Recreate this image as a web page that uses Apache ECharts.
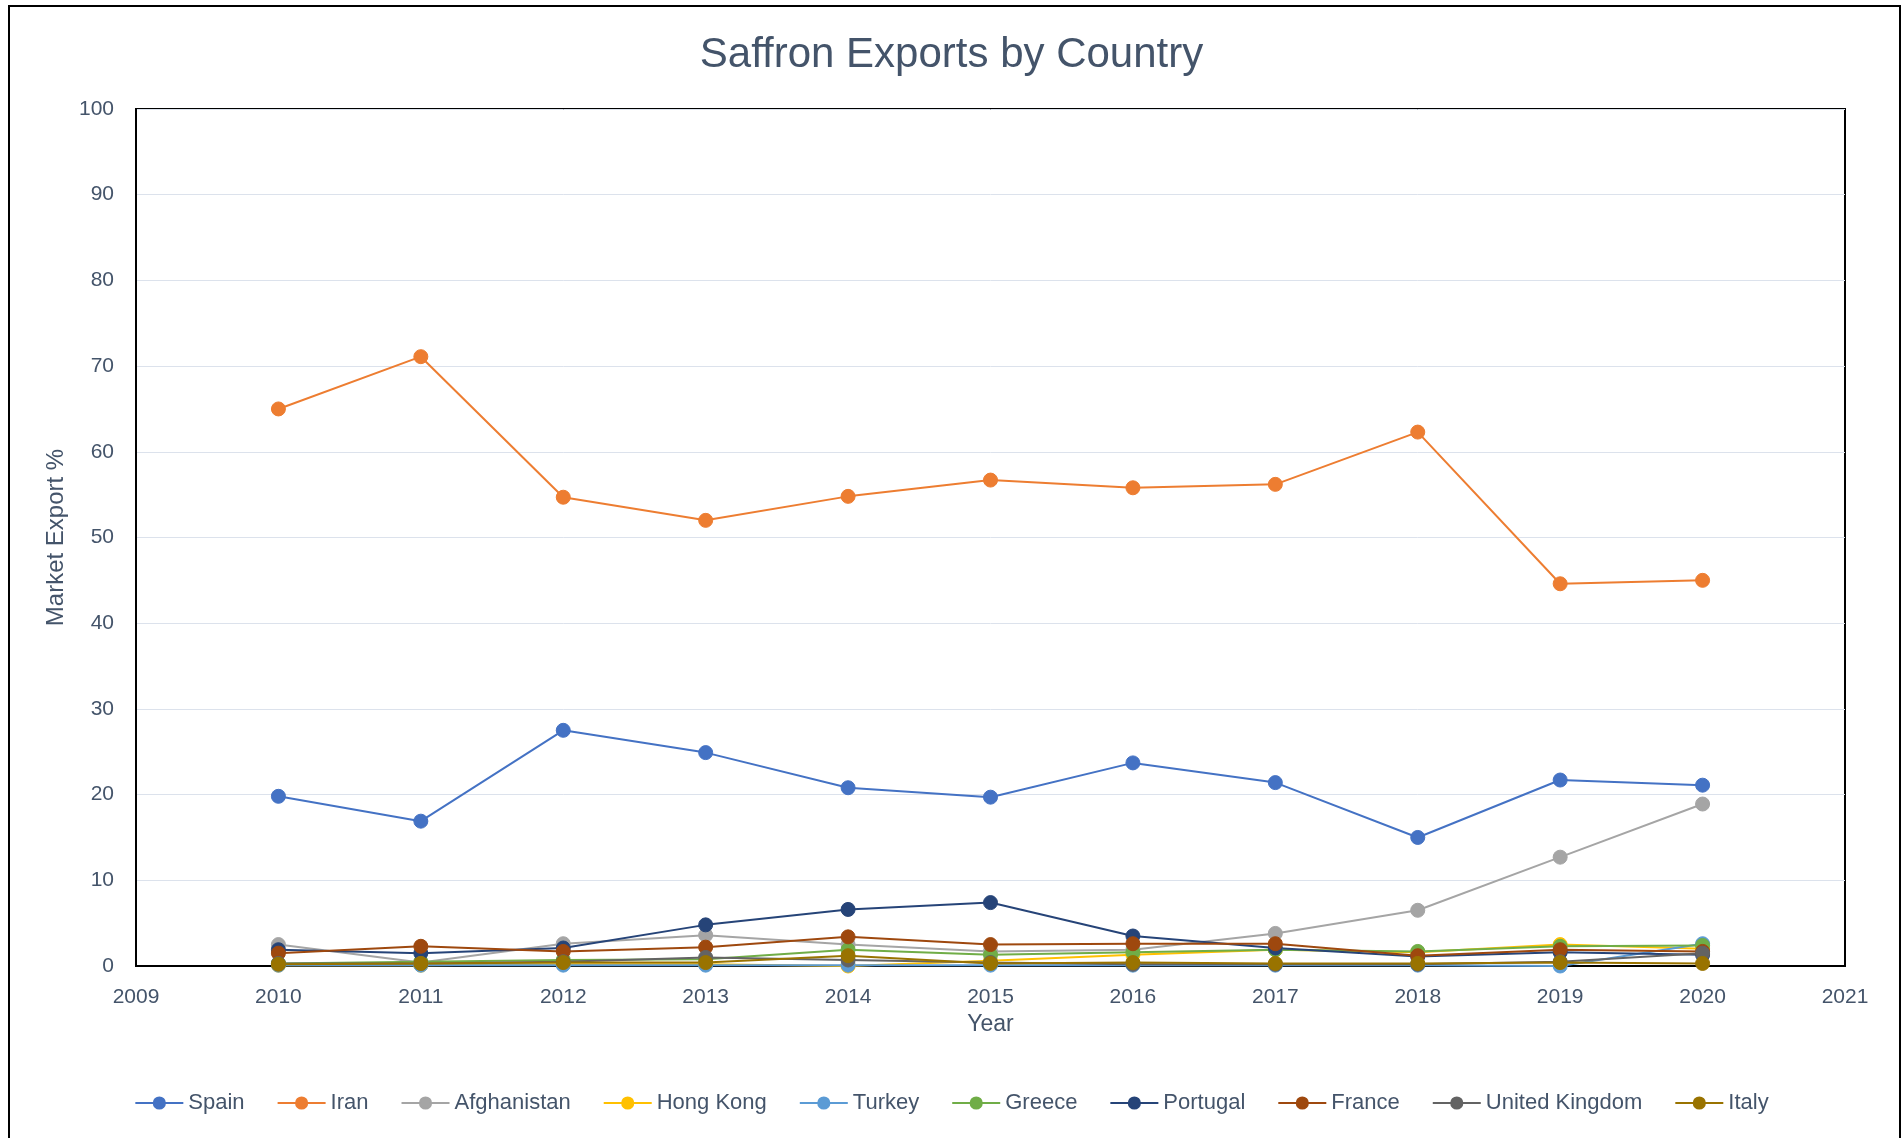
<!DOCTYPE html>
<html>
<head>
<meta charset="utf-8">
<title>Saffron Exports by Country</title>
<script src="https://cdn.jsdelivr.net/npm/echarts@6/dist/echarts.min.js"></script>
<style>
  html, body { margin: 0; padding: 0; background: #fff; }
  #chart { width: 1903px; height: 1138px; }
</style>
</head>
<body>
<div id="chart"></div>
<script>
// Market export share (%) per country, 2010-2020
const years = [2010, 2011, 2012, 2013, 2014, 2015, 2016, 2017, 2018, 2019, 2020];
const spain       = [19.8, 16.9, 27.5, 24.9, 20.8, 19.7, 23.7, 21.4, 15.0, 21.7, 21.1];
const iran        = [65.0, 71.1, 54.7, 52.0, 54.8, 56.7, 55.8, 56.2, 62.3, 44.6, 45.0];
const afghanistan = [2.5, 0.4, 2.6, 3.6, 2.5, 1.7, 1.9, 3.8, 6.5, 12.7, 18.9];
const hongKong    = [0.1, 0.1, 0.2, 0.2, 0.0, 0.6, 1.3, 1.9, 1.6, 2.5, 2.0];
const turkey      = [0.1, 0.1, 0.1, 0.1, 0.1, 0.1, 0.1, 0.1, 0.1, 0.0, 2.6];
const greece      = [0.3, 0.5, 0.7, 0.8, 1.9, 1.3, 1.6, 1.9, 1.7, 2.3, 2.4];
const portugal    = [1.9, 1.5, 2.1, 4.8, 6.6, 7.4, 3.5, 2.1, 1.1, 1.6, 1.3];
const france      = [1.5, 2.3, 1.7, 2.2, 3.4, 2.5, 2.6, 2.6, 1.2, 1.9, 1.7];
const unitedKingdom = [0.3, 0.3, 0.5, 1.0, 0.7, 0.4, 0.2, 0.2, 0.2, 0.5, 1.5];
const italy       = [0.2, 0.3, 0.4, 0.4, 1.2, 0.3, 0.4, 0.3, 0.3, 0.4, 0.3];

const countryNames = ['Spain', 'Iran', 'Afghanistan', 'Hong Kong', 'Turkey', 'Greece',
                      'Portugal', 'France', 'United Kingdom', 'Italy'];
const countryValues = [spain, iran, afghanistan, hongKong, turkey, greece,
                       portugal, france, unitedKingdom, italy];
const countryColors = ['#4472C4', '#ED7D31', '#A5A5A5', '#FFC000', '#5B9BD5', '#70AD47',
                       '#264478', '#9E480E', '#636363', '#997300'];

const textColor = '#44546A';
const font = 'Liberation Sans, Arial, sans-serif';

const series = countryNames.map((name, i) => ({
  name: name,
  type: 'line',
  data: years.map((y, k) => [y, countryValues[i][k]]),
  symbol: 'circle',
  symbolSize: 14,
  lineStyle: { width: 2, color: countryColors[i] },
  itemStyle: { color: countryColors[i], borderColor: countryColors[i], borderWidth: 1 },
  emphasis: { disabled: true },
  animation: false
}));

const chart = echarts.init(document.getElementById('chart'));
chart.setOption({
  animation: false,
  backgroundColor: '#fff',
  title: {
    text: 'Saffron Exports by Country',
    left: 'center',
    top: 29,
    textStyle: { fontFamily: font, fontSize: 42, fontWeight: 'normal', color: textColor }
  },
  graphic: [{
    type: 'rect',
    shape: { x: 9, y: 6, width: 1891, height: 1160 },
    style: { fill: 'none', stroke: '#000', lineWidth: 2 },
    silent: true
  }],
  legend: {
    bottom: 19,
    left: 'center',
    itemWidth: 48,
    itemHeight: 14,
    itemGap: 32,
    textStyle: { fontFamily: font, fontSize: 22, color: textColor },
    data: countryNames
  },
  grid: {
    left: 136, right: 58, top: 109, bottom: 172,
    show: true, borderColor: '#000', borderWidth: 2
  },
  xAxis: {
    type: 'value',
    min: 2009, max: 2021, interval: 1,
    name: 'Year',
    nameLocation: 'middle',
    nameGap: 41,
    nameTextStyle: { fontFamily: font, fontSize: 23, color: textColor },
    axisLine: { show: true, lineStyle: { color: '#000', width: 2 } },
    axisTick: { show: false },
    splitLine: { show: false },
    axisLabel: {
      fontFamily: font, fontSize: 21, color: textColor, margin: 21,
      formatter: v => String(v)
    }
  },
  yAxis: {
    type: 'value',
    min: 0, max: 100, interval: 10,
    name: 'Market Export %',
    nameLocation: 'middle',
    nameGap: 68,
    nameTextStyle: { fontFamily: font, fontSize: 24, color: textColor },
    axisLine: { show: true, lineStyle: { color: '#000', width: 2 } },
    axisTick: { show: false },
    splitLine: { show: true, lineStyle: { color: '#DCE2EC', width: 1 } },
    axisLabel: { fontFamily: font, fontSize: 21, color: textColor, margin: 22 }
  },
  series: series
});
</script>
</body>
</html>
